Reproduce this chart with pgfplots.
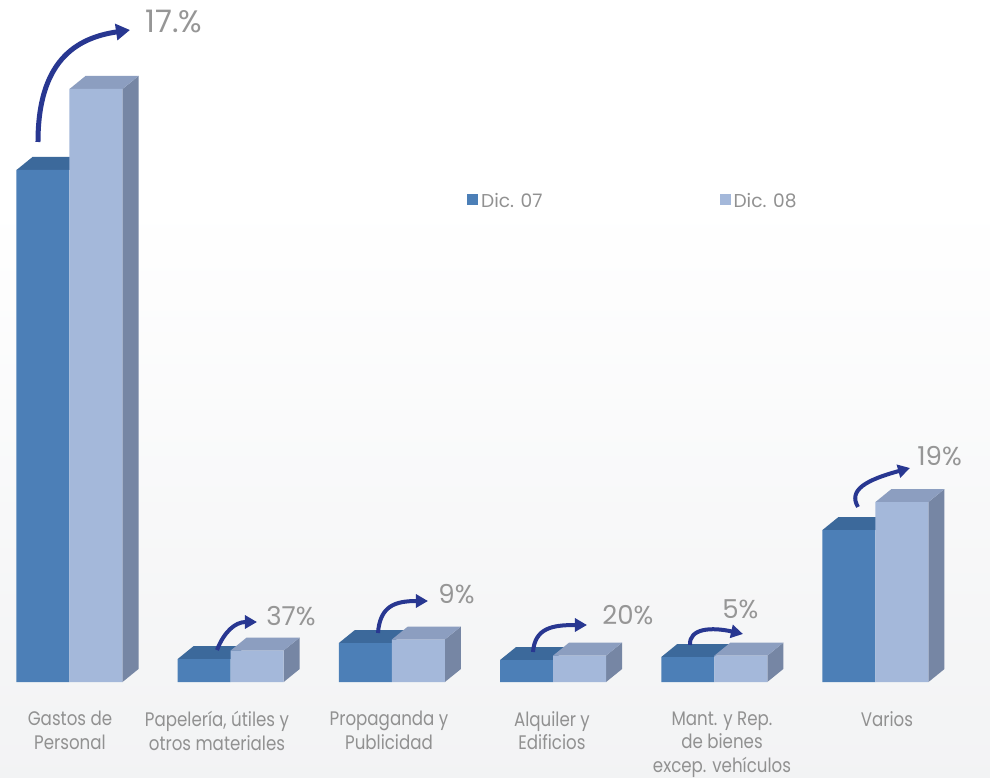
\documentclass[border=0pt]{standalone}
\usepackage{pgfplots}
\pgfplotsset{compat=1.18}
\usepackage{pgfplotstable}
\usepackage{fontspec}
\setmainfont{Poppins}
\newfontfamily\labfont{Poppins}[FakeStretch=0.85]
\usetikzlibrary{arrows.meta}

\definecolor{cA}{RGB}{76,127,183}
\definecolor{cAtop}{RGB}{60,105,155}
\definecolor{cB}{RGB}{164,184,218}
\definecolor{cBtop}{RGB}{140,158,192}
\definecolor{cBside}{RGB}{118,134,164}
\definecolor{arr}{RGB}{40,55,145}
\definecolor{txt}{RGB}{145,145,145}
\definecolor{ptxt}{RGB}{150,150,150}
\definecolor{bgbot}{RGB}{236,237,239}

\pgfdeclareverticalshading{bgsh}{100bp}{color(0bp)=(bgbot); color(30bp)=(bgbot!60!white); color(62bp)=(white); color(100bp)=(white)}

% values (bar heights)
\pgfplotstableread{
x a b
0 512 593
1 23 31.5
2 39 42.5
3 22 26.4
4 25 26.3
5 152 180
}\data

\newcommand\W{0.3288}
\newcommand\HW{0.1644}
\newcommand\DX{0.0993}
\newcommand\DY{13}
\newcommand\pxc[2]{(axis cs:{(#1-69.5)/161.2},{682-#2})}

\begin{document}
\begin{tikzpicture}
\useasboundingbox (0,-47.5pt) rectangle (495pt,341pt);
\shade[shading=bgsh] (0,-47.5pt) rectangle (495pt,341pt);
\begin{axis}[
  at={(0,0)}, anchor=south west,
  scale only axis, width=495pt, height=341pt,
  xmin=-0.4311, xmax=5.7104, ymin=0, ymax=682,
  clip=false,
  axis line style={draw=none}, tick style={draw=none},
  major tick length=0pt,
  ytick=\empty,
  xtick={0.003,0.915,1.982,2.993,4.048,5.071},
  xticklabels={{Gastos de\\Personal},{Papelería, útiles y\\otros materiales},{Propaganda y\\Publicidad},{Alquiler y\\Edificios},{Mant. y Rep.\\de bienes\\excep. vehículos},{Varios}},
  xticklabel style={align=center, anchor=north, inner sep=0pt, font=\labfont\fontsize{9.8}{11.8}\selectfont, text=txt},
  xticklabel shift=14.5pt,
  legend columns=2,
  legend style={draw=none, fill=none, at={(axis cs:2.466,480)}, anchor=west, inner sep=0pt,
    font=\fontsize{9.3}{11}\selectfont, text=txt,
    /tikz/every odd column/.append style={column sep=-0.6pt},
    /tikz/every even column/.append style={column sep=86.6pt}},
  legend image code/.code={\fill[#1, draw=none] (0pt,-1.3pt) rectangle (5.5pt,4.2pt);},
]
% top faces of Dic. 07
\pgfplotsinvokeforeach{0,...,5}{
  \pgfplotstablegetelem{#1}{a}\of\data \let\ha\pgfplotsretval
  \edef\tmp{\noexpand\fill[cAtop] (axis cs:#1-\W,\ha) -- (axis cs:#1,\ha) -- (axis cs:#1+\DX,\ha+\DY) -- (axis cs:#1-\W+\DX,\ha+\DY) -- cycle;}
  \tmp
}
\addplot[ybar, bar width=\W, bar shift=-\HW, draw=none, fill=cA, forget plot] table[x=x, y=a] {\data};
% side and top faces of Dic. 08
\pgfplotsinvokeforeach{0,...,5}{
  \pgfplotstablegetelem{#1}{b}\of\data \let\hb\pgfplotsretval
  \edef\tmp{\noexpand\fill[cBside] (axis cs:#1+\W,0) -- (axis cs:#1+\W+\DX,\DY) -- (axis cs:#1+\W+\DX,\hb+\DY) -- (axis cs:#1+\W,\hb) -- cycle;
  \noexpand\fill[cBtop] (axis cs:#1,\hb) -- (axis cs:#1+\W,\hb) -- (axis cs:#1+\W+\DX,\hb+\DY) -- (axis cs:#1+\DX,\hb+\DY) -- cycle;}
  \tmp
}
\addplot[ybar, bar width=\W, bar shift=\HW, draw=none, fill=cB, forget plot] table[x=x, y=b] {\data};

\addlegendimage{fill=cA, draw=none}
\addlegendentry{Dic. 07}
\addlegendimage{fill=cB, draw=none}
\addlegendentry{Dic. 08}

% growth arrows
\draw[arr, line width=2.5pt, -{Triangle[length=7pt,width=8pt]}] \pxc{38}{142} .. controls \pxc{38}{62} and \pxc{75}{38} .. \pxc{130}{30};
\draw[arr, line width=2pt, -{Triangle[length=6pt,width=6.5pt]}] \pxc{217}{650} .. controls \pxc{224}{632} and \pxc{235}{622} .. \pxc{257}{622};
\draw[arr, line width=2pt, -{Triangle[length=6pt,width=6.5pt]}] \pxc{378}{633} .. controls \pxc{380}{606} and \pxc{395}{601} .. \pxc{428}{601};
\draw[arr, line width=2pt, -{Triangle[length=6pt,width=6.5pt]}] \pxc{533}{652} .. controls \pxc{535}{628} and \pxc{552}{625} .. \pxc{587}{625};
\draw[arr, line width=2pt, -{Triangle[length=6pt,width=6.5pt]}] \pxc{690}{645} .. controls \pxc{689}{628} and \pxc{712}{627} .. \pxc{743}{634};
\draw[arr, line width=2pt, -{Triangle[length=6pt,width=6.5pt]}] \pxc{858}{507} .. controls \pxc{848}{490} and \pxc{866}{480} .. \pxc{910}{468};

% growth labels
\node[anchor=west, inner sep=0pt, text=ptxt, font=\fontsize{15.5}{18}\selectfont] at \pxc{145}{21} {17.\%};
\node[anchor=west, inner sep=0pt, text=ptxt, font=\fontsize{13}{15}\selectfont] at \pxc{266}{616} {37\%};
\node[anchor=west, inner sep=0pt, text=ptxt, font=\fontsize{13}{15}\selectfont] at \pxc{438}{594} {9\%};
\node[anchor=west, inner sep=0pt, text=ptxt, font=\fontsize{13}{15}\selectfont] at \pxc{602}{615} {20\%};
\node[anchor=west, inner sep=0pt, text=ptxt, font=\fontsize{13}{15}\selectfont] at \pxc{722}{609} {5\%};
\node[anchor=west, inner sep=0pt, text=ptxt, font=\fontsize{13}{15}\selectfont] at \pxc{917}{456} {19\%};
\end{axis}
\end{tikzpicture}
\end{document}
